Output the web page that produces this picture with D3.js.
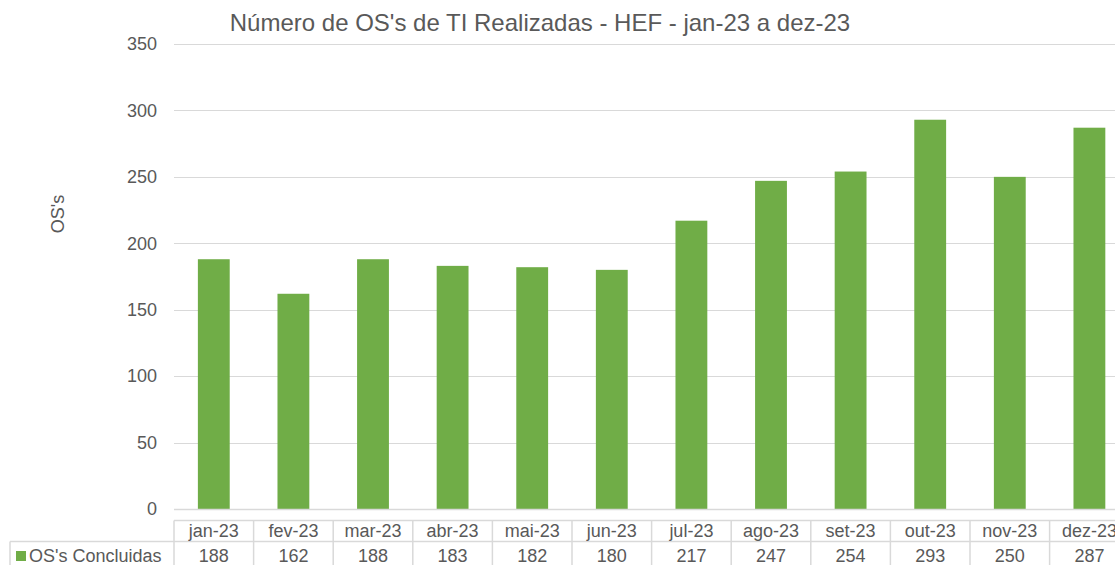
<!DOCTYPE html>
<html>
<head>
<meta charset="utf-8">
<script src="https://cdn.jsdelivr.net/npm/d3@7"></script>
<style>
  body { margin: 0; background: #fff; overflow: hidden; }
  svg { font-family: "Liberation Sans", Arial, sans-serif; display: block; }
</style>
</head>
<body>
<svg id="chart"></svg>
<script>
// Data
var months = ["jan-23", "fev-23", "mar-23", "abr-23", "mai-23", "jun-23", "jul-23", "ago-23", "set-23", "out-23", "nov-23", "dez-23"];
var concluidas = [188, 162, 188, 183, 182, 180, 217, 247, 254, 293, 250, 287];
var yTicks = [0, 50, 100, 150, 200, 250, 300, 350];
var seriesName = "OS's Concluidas";
var title = "Número de OS's de TI Realizadas - HEF - jan-23 a dez-23";

var W = 1115, H = 565;
var left = 174, plotTop = 44, plotBottom = 509;
var step = 79.6;
var right = left + step * months.length;

var svg = d3.select('#chart')
    .attr('width', W)
    .attr('height', H);

// Scales
var x = d3.scaleBand()
    .domain(months)
    .range([left, right])
    .paddingInner(0.6)
    .paddingOuter(0.3);
var y = d3.scaleLinear()
    .domain([0, 350])
    .range([plotBottom, plotTop]);

// Gridlines
svg.append('g')
  .selectAll('line')
  .data(yTicks.slice(1))
  .enter().append('line')
    .attr('x1', left)
    .attr('x2', right)
    .attr('y1', function (d) { return Math.round(y(d)) + 0.5; })
    .attr('y2', function (d) { return Math.round(y(d)) + 0.5; })
    .attr('stroke', '#d9d9d9')
    .attr('stroke-width', 1);

// Y axis labels
svg.append('g')
  .selectAll('text')
  .data(yTicks)
  .enter().append('text')
    .attr('x', 157)
    .attr('y', function (d) { return y(d); })
    .attr('dy', '0.35em')
    .attr('text-anchor', 'end')
    .style('font-size', '18px')
    .style('fill', '#595959')
    .text(function (d) { return d; });

// Bars
svg.append('g')
  .selectAll('rect')
  .data(concluidas)
  .enter().append('rect')
    .attr('x', function (d, i) { return x(months[i]); })
    .attr('y', function (d) { return y(d); })
    .attr('width', x.bandwidth())
    .attr('height', function (d) { return y(0) - y(d); })
    .attr('fill', '#70ad47');

// Axis line
svg.append('line')
    .attr('x1', left).attr('x2', right)
    .attr('y1', plotBottom + 0.5).attr('y2', plotBottom + 0.5)
    .attr('stroke', '#d9d9d9')
    .attr('stroke-width', 1.5);

// Data table
var rowTop = 520.5, rowMid = 541.5, rowBot = 566;
var grid = svg.append('g').attr('stroke', '#d9d9d9').attr('stroke-width', 1.5);
grid.append('line').attr('x1', left).attr('x2', right).attr('y1', rowTop).attr('y2', rowTop);
grid.append('line').attr('x1', 10).attr('x2', right).attr('y1', rowMid).attr('y2', rowMid);
grid.append('line').attr('x1', 10).attr('x2', 10).attr('y1', rowMid).attr('y2', rowBot);
grid.selectAll('line.v')
  .data(d3.range(months.length + 1))
  .enter().append('line')
    .attr('class', 'v')
    .attr('x1', function (i) { return left + i * step; })
    .attr('x2', function (i) { return left + i * step; })
    .attr('y1', rowTop)
    .attr('y2', rowBot);

svg.append('g')
  .selectAll('text')
  .data(months)
  .enter().append('text')
    .attr('x', function (d) { return x(d) + x.bandwidth() / 2; })
    .attr('y', 537)
    .attr('text-anchor', 'middle')
    .style('font-size', '18px')
    .style('fill', '#595959')
    .text(function (d) { return d; });

svg.append('g')
  .selectAll('text')
  .data(concluidas)
  .enter().append('text')
    .attr('x', function (d, i) { return x(months[i]) + x.bandwidth() / 2; })
    .attr('y', 562)
    .attr('text-anchor', 'middle')
    .style('font-size', '18px')
    .style('fill', '#595959')
    .text(function (d) { return d; });

// Legend key in table
svg.append('rect')
    .attr('x', 16).attr('y', 551)
    .attr('width', 10).attr('height', 10)
    .attr('fill', '#70ad47');
svg.append('text')
    .attr('x', 29)
    .attr('y', 562)
    .style('font-size', '18px')
    .style('fill', '#595959')
    .text(seriesName);

// Title
svg.append('text')
    .attr('x', 540)
    .attr('y', 31)
    .attr('text-anchor', 'middle')
    .style('font-size', '24px')
    .style('fill', '#595959')
    .text(title);

// Y axis title
svg.append('text')
    .attr('transform', 'translate(64,214) rotate(-90)')
    .attr('text-anchor', 'middle')
    .style('font-size', '18px')
    .style('fill', '#595959')
    .text("OS's");
</script>
</body>
</html>
